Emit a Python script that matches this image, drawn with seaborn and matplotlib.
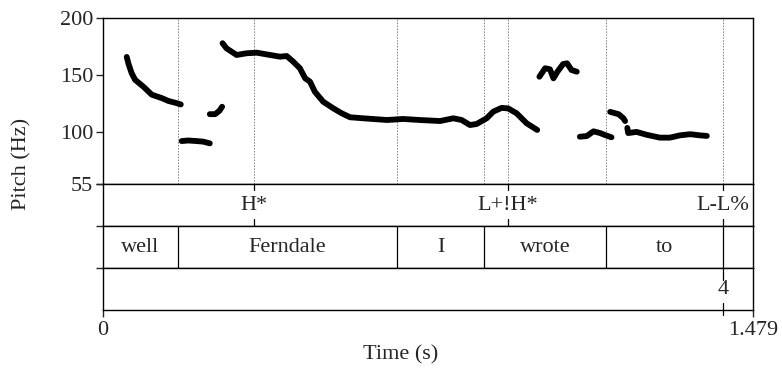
import numpy as np
import pandas as pd
import matplotlib
matplotlib.use("Agg")
import matplotlib.pyplot as plt
import seaborn as sns

# ---------------- data ----------------
T_END = 1.479

# pitch contour pieces (time s, pitch Hz)
seg1_t = [0.054, 0.058, 0.065, 0.073, 0.092, 0.111, 0.134, 0.149, 0.164, 0.177]
seg1_hz = [166, 160, 152, 146, 140, 133, 130, 127.5, 126, 124.5]

seg2_t = [0.179, 0.194, 0.213, 0.228, 0.243]
seg2_hz = [92.5, 93, 92.5, 92, 90.5]

seg3_t = [0.243, 0.255, 0.265, 0.271]
seg3_hz = [116, 116, 119, 122.5]

seg4_t = [0.272, 0.281, 0.304, 0.327, 0.350, 0.380, 0.403, 0.418, 0.433, 0.448,
          0.460, 0.471, 0.482, 0.501, 0.524, 0.543, 0.562, 0.592, 0.646, 0.683,
          0.721, 0.767, 0.797, 0.816, 0.835, 0.850, 0.873, 0.888, 0.907, 0.922,
          0.941, 0.964, 0.988]
seg4_hz = [178, 173.5, 167.7, 169.2, 169.7, 167.7, 166.2, 166.8, 161.8, 156.1,
           147.3, 144.4, 135.6, 126.9, 121.1, 116.8, 113.3, 112.4, 110.9, 111.8,
           110.9, 110.0, 112.4, 110.9, 106.5, 107.4, 112.4, 118.2, 121.5, 121.0,
           116.8, 108.0, 102.2]

seg5_t = [0.993, 1.006, 1.017, 1.025, 1.034, 1.047, 1.056, 1.066, 1.078]
seg5_hz = [148.7, 156.1, 155.2, 147.3, 153.1, 159.8, 160.4, 154.6, 153.1]

seg6_t = [1.085, 1.101, 1.116, 1.131, 1.142, 1.157]
seg6_hz = [96.3, 96.9, 101, 99.5, 97.8, 95.8]

seg7_t = [1.154, 1.173, 1.184, 1.188]
seg7_hz = [118, 116, 112.5, 110]

seg8_t = [1.193, 1.195, 1.214, 1.237, 1.267, 1.290, 1.313, 1.336, 1.358, 1.374]
seg8_hz = [104, 99.5, 100.5, 98, 95.5, 95.5, 97.5, 98.5, 97.5, 97]

# tiers
tone_times = [0.3436, 0.9215, 1.4108]
tone_labels = ["H*", "L+!H*", "L-L%"]

word_bounds = [0.0, 0.1707, 0.669, 0.867, 1.1445, 1.4108, T_END]
word_labels = ["well", "Ferndale", "I", "wrote", "to", ""]

break_times = [1.4108]
break_labels = ["4"]

y_ticks = [55, 100, 150, 200]

# ---------------- figure ----------------
sns.set_style("white")
plt.rcParams["font.family"] = ["Liberation Serif", "DejaVu Serif"]
plt.rcParams["axes.linewidth"] = 1.0
FS = 16

W, H = 782, 372
fig = plt.figure(figsize=(W / 100, H / 100), dpi=100)

L = 103 / W
WID = 650 / W
def fy(px):
    return 1 - px / H

ax_p = fig.add_axes([L, fy(184), WID, (184 - 18) / H])
ax_t = fig.add_axes([L, fy(226), WID, 42 / H])
ax_w = fig.add_axes([L, fy(268), WID, 42 / H])
ax_n = fig.add_axes([L, fy(310), WID, 42 / H])

segs = [(seg1_t, seg1_hz), (seg2_t, seg2_hz), (seg3_t, seg3_hz), (seg4_t, seg4_hz),
        (seg5_t, seg5_hz), (seg6_t, seg6_hz), (seg7_t, seg7_hz), (seg8_t, seg8_hz)]
rows = []
for i, (ts, hs) in enumerate(segs):
    for t, h in zip(ts, hs):
        rows.append({"seg": i, "time": t, "hz": h})
df = pd.DataFrame(rows)

# dotted guide lines in pitch area
guide = sorted(set(word_bounds[1:-1] + tone_times))
for g in guide:
    ax_p.axvline(g, color="#808080", lw=0.7, ls=(0, (1.5, 1.5)), zorder=1)

sns.lineplot(data=df, x="time", y="hz", units="seg", estimator=None, sort=False,
             color="black", linewidth=4.2, ax=ax_p, legend=False,
             solid_capstyle="round", solid_joinstyle="round", zorder=3)

ax_p.set_xlim(0, T_END)
ax_p.set_ylim(55, 200)
ax_p.set_yticks(y_ticks)
ax_p.set_yticklabels([str(v) for v in y_ticks], fontsize=FS)
ax_p.set_xticks([])
ax_p.set_xlabel("")
ax_p.set_ylabel("")
ax_p.tick_params(axis="y", direction="out", length=5, width=1, pad=2, left=True)

for ax in (ax_t, ax_w, ax_n):
    ax.set_xlim(0, T_END)
    ax.set_ylim(0, 1)
    ax.set_yticks([1])
    ax.set_yticklabels([""])
    ax.tick_params(axis="y", direction="out", length=5, width=1, left=True)
    ax.set_xticks([])

for ax in (ax_p, ax_t, ax_w, ax_n):
    for s in ax.spines.values():
        s.set_color("black")
        s.set_linewidth(1.0)
        s.set_visible(True)

# tone tier
for t, lab in zip(tone_times, tone_labels):
    ax_t.text(t, 0.5, lab, ha="center", va="center", fontsize=FS)
    ax_t.plot([t, t], [1, 0.86], color="black", lw=0.9)
    ax_t.plot([t, t], [0, 0.17], color="black", lw=0.9)

# word tier
for b in word_bounds[1:-1]:
    ax_w.axvline(b, color="black", lw=0.9)
for a, b, lab in zip(word_bounds[:-1], word_bounds[1:], word_labels):
    ax_w.text((a + b) / 2, 0.5, lab, ha="center", va="center", fontsize=FS)

# break tier
for t, lab in zip(break_times, break_labels):
    ax_n.text(t, 0.5, lab, ha="center", va="center", fontsize=FS)
    ax_n.plot([t, t], [1, 0.72], color="black", lw=0.9)
    ax_n.plot([t, t], [-0.12, 0.16], color="black", lw=0.9, clip_on=False)

ax_n.set_xticks([0, T_END])
ax_n.set_xticklabels(["0", "1.479"], fontsize=FS)
ax_n.tick_params(axis="x", direction="out", length=5, width=1, pad=3, bottom=True)

fig.text(401 / W, fy(355), "Time (s)", ha="center", va="center", fontsize=FS)
fig.text(22 / W, fy(164), "Pitch (Hz)", ha="center", va="center", fontsize=FS,
         rotation=90)

fig.savefig("out.png", dpi=100)
